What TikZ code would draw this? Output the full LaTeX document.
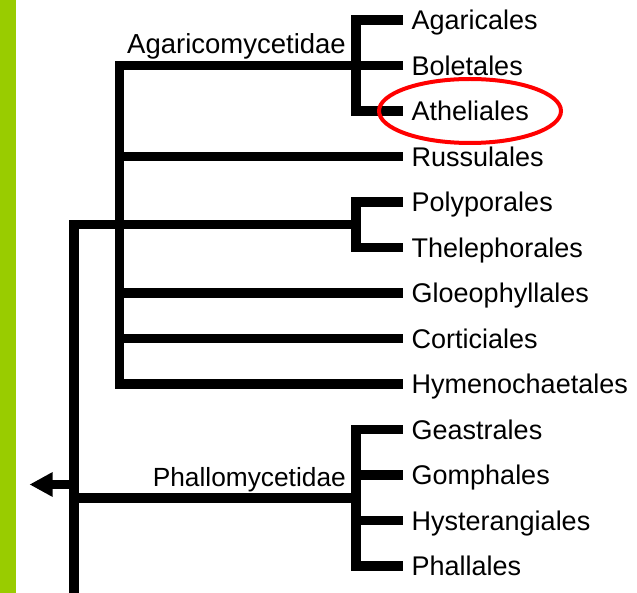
\documentclass[tikz,border=0pt]{standalone}
\usepackage{fontspec}
\setmainfont{Liberation Sans}
\usetikzlibrary{arrows.meta}
\definecolor{bargreen}{RGB}{153,204,0}
\begin{document}
\begin{tikzpicture}[x=1pt,y=-1pt,
  br/.style={line width=9.3pt, line join=miter},
  leaf/.style={anchor=west, inner xsep=8.5pt, inner ysep=0pt, text height=19.3pt, text depth=0pt, font=\fontsize{27}{30}\selectfont},
  grp/.style={anchor=base east, inner sep=0pt},
  mark ring/.style={draw=red, line width=4pt}]
\useasboundingbox (0,0) rectangle (637,593);
\fill[bargreen] (0,0) rectangle (16,593);

% leaves
\node[leaf] (agar) at (403,20)    {Agaricales};
\node[leaf] (bole) at (403,65.5)  {Boletales};
\node[leaf] (athe) at (403,111)   {Atheliales};
\node[leaf] (russ) at (403,156.5) {Russulales};
\node[leaf] (poly) at (403,202)   {Polyporales};
\node[leaf] (thel) at (403,247.5) {Thelephorales};
\node[leaf] (gloe) at (403,293)   {Gloeophyllales};
\node[leaf] (cort) at (403,338.5) {Corticiales};
\node[leaf] (hyme) at (403,384)   {Hymenochaetales};
\node[leaf] (geas) at (403,429.5) {Geastrales};
\node[leaf] (goph) at (403,475)   {Gomphales};
\node[leaf] (hyst) at (403,520.5) {Hysterangiales};
\node[leaf] (phal) at (403,566)   {Phallales};

% internal points
\coordinate (g1) at (356,65.5);
\coordinate (ag) at (119.5,65.5);
\coordinate (g2) at (356,224.5);
\coordinate (top) at (74,224.5);
\coordinate (bot) at (74,593);
\coordinate (g3) at (356,498);
\coordinate (stub) at (74,484.5);
\coordinate (tip) at (29.5,484.5);

% connectors
\draw[br] (agar.west) -| (g1) |- (athe.west);
\draw[br] (bole.west) -- (ag) |- (hyme.west);
\foreach \n in {russ,gloe,cort} \draw[br] (ag |- \n.west) -- (\n.west);
\draw[br] (poly.west) -| (g2) |- (thel.west);
\draw[br] (g2) -- (top) -- (bot);
\draw[br] (geas.west) -| (g3) |- (phal.west);
\foreach \n in {goph,hyst} \draw[br] (g3 |- \n.west) -- (\n.west);
\draw[br] (g3) -- (g3 -| top);
\draw[br, -{Triangle[length=23pt,width=23pt]}] (stub) -- (tip);

% group labels
\node[grp, font=\fontsize{27.5}{30}\selectfont] (agl) at ([shift={(-10,-12)}]g1) {Agaricomycetidae};
\node[grp, font=\fontsize{26.3}{30}\selectfont] (phl) at ([shift={(-10,-12)}]g3) {Phallomycetidae};

% highlight
\draw[mark ring] (470,111) ellipse [x radius=91pt, y radius=32pt];
\end{tikzpicture}
\end{document}
